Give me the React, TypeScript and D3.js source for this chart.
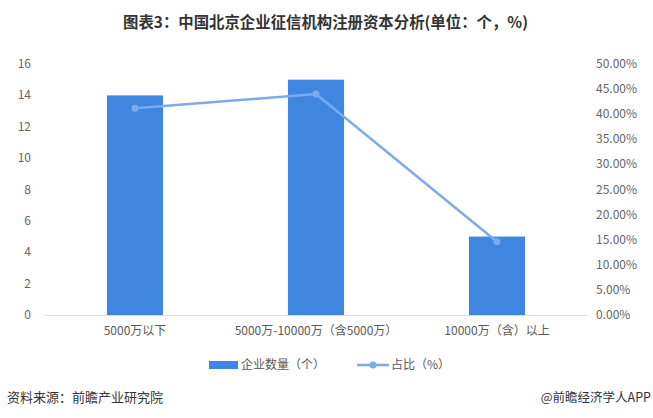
import React from "react";
import * as d3 from "d3";

const categories = ["5000万以下", "5000万-10000万（含5000万）", "10000万（含）以上"];
const counts = [14, 15, 5];
const shares = [41.2, 44.0, 14.6];
const leftTicks = [0, 2, 4, 6, 8, 10, 12, 14, 16];
const rightTicks = [0, 5, 10, 15, 20, 25, 30, 35, 40, 45, 50];

const W = 653, H = 418;
const left = 44.5, right = 587.5, top = 64, bottom = 315;
const font = "'Microsoft YaHei', 'Noto Sans CJK SC', sans-serif";

export default function App() {
  const x = d3.scaleBand<string>().domain(categories).range([left, right]).paddingInner(0.69).paddingOuter(0.345);
  const y = d3.scaleLinear().domain([0, 16]).range([bottom, top]);
  const y2 = d3.scaleLinear().domain([0, 50]).range([bottom, top]);
  const cx = (c: string) => (x(c) as number) + x.bandwidth() / 2;
  const line = d3.line<number>().x((_, i) => cx(categories[i])).y((d) => y2(d));
  return (
    <svg width={W} height={H} style={{ position: "absolute", left: 0, top: 0, background: "#fff" }}>
      <text x={325.5} y={27.5} textAnchor="middle" fontFamily={font} fontWeight="bold" fontSize={15.4} fill="#333">
        图表3：中国北京企业征信机构注册资本分析(单位：个，%)
      </text>
      {leftTicks.map((t) => (
        <text key={t} x={31} y={y(t) + 4} textAnchor="end" fontFamily={font} fontSize={12} fill="#666">{t}</text>
      ))}
      {rightTicks.map((t) => (
        <text key={t} x={596} y={y2(t) + 4} textAnchor="start" fontFamily={font} fontSize={12} fill="#666">{t.toFixed(2)}%</text>
      ))}
      {categories.map((c, i) => (
        <rect key={c} x={x(c)} y={y(counts[i])} width={x.bandwidth()} height={bottom - y(counts[i])} fill="#3F86E0" />
      ))}
      <line x1={left} x2={right} y1={bottom + 0.5} y2={bottom + 0.5} stroke="#d9d9d9" strokeWidth={1} />
      <path d={line(shares) || ""} fill="none" stroke="#7BAAEE" strokeWidth={2.5} />
      {shares.map((s, i) => (
        <circle key={i} cx={cx(categories[i])} cy={y2(s)} r={3.5} fill="#7BAAEE" />
      ))}
      {categories.map((c) => (
        <text key={c} x={cx(c)} y={335} textAnchor="middle" fontFamily={font} fontSize={12} fill="#595959">{c}</text>
      ))}
      <rect x={209} y={361} width={29} height={8} fill="#3F86E0" />
      <text x={241} y={369} fontFamily={font} fontSize={12} fill="#595959">企业数量（个）</text>
      <line x1={357} x2={389} y1={365} y2={365} stroke="#7BAAEE" strokeWidth={2.5} />
      <circle cx={373} cy={365} r={3.5} fill="#7BAAEE" />
      <text x={391} y={369} fontFamily={font} fontSize={12} fill="#595959">占比（%）</text>
      <text x={7} y={402} fontFamily={font} fontSize={13} fill="#333">资料来源：前瞻产业研究院</text>
      <text x={651} y={402} textAnchor="end" fontFamily={font} fontSize={12.5} fill="#333">@前瞻经济学人APP</text>
    </svg>
  );
}
